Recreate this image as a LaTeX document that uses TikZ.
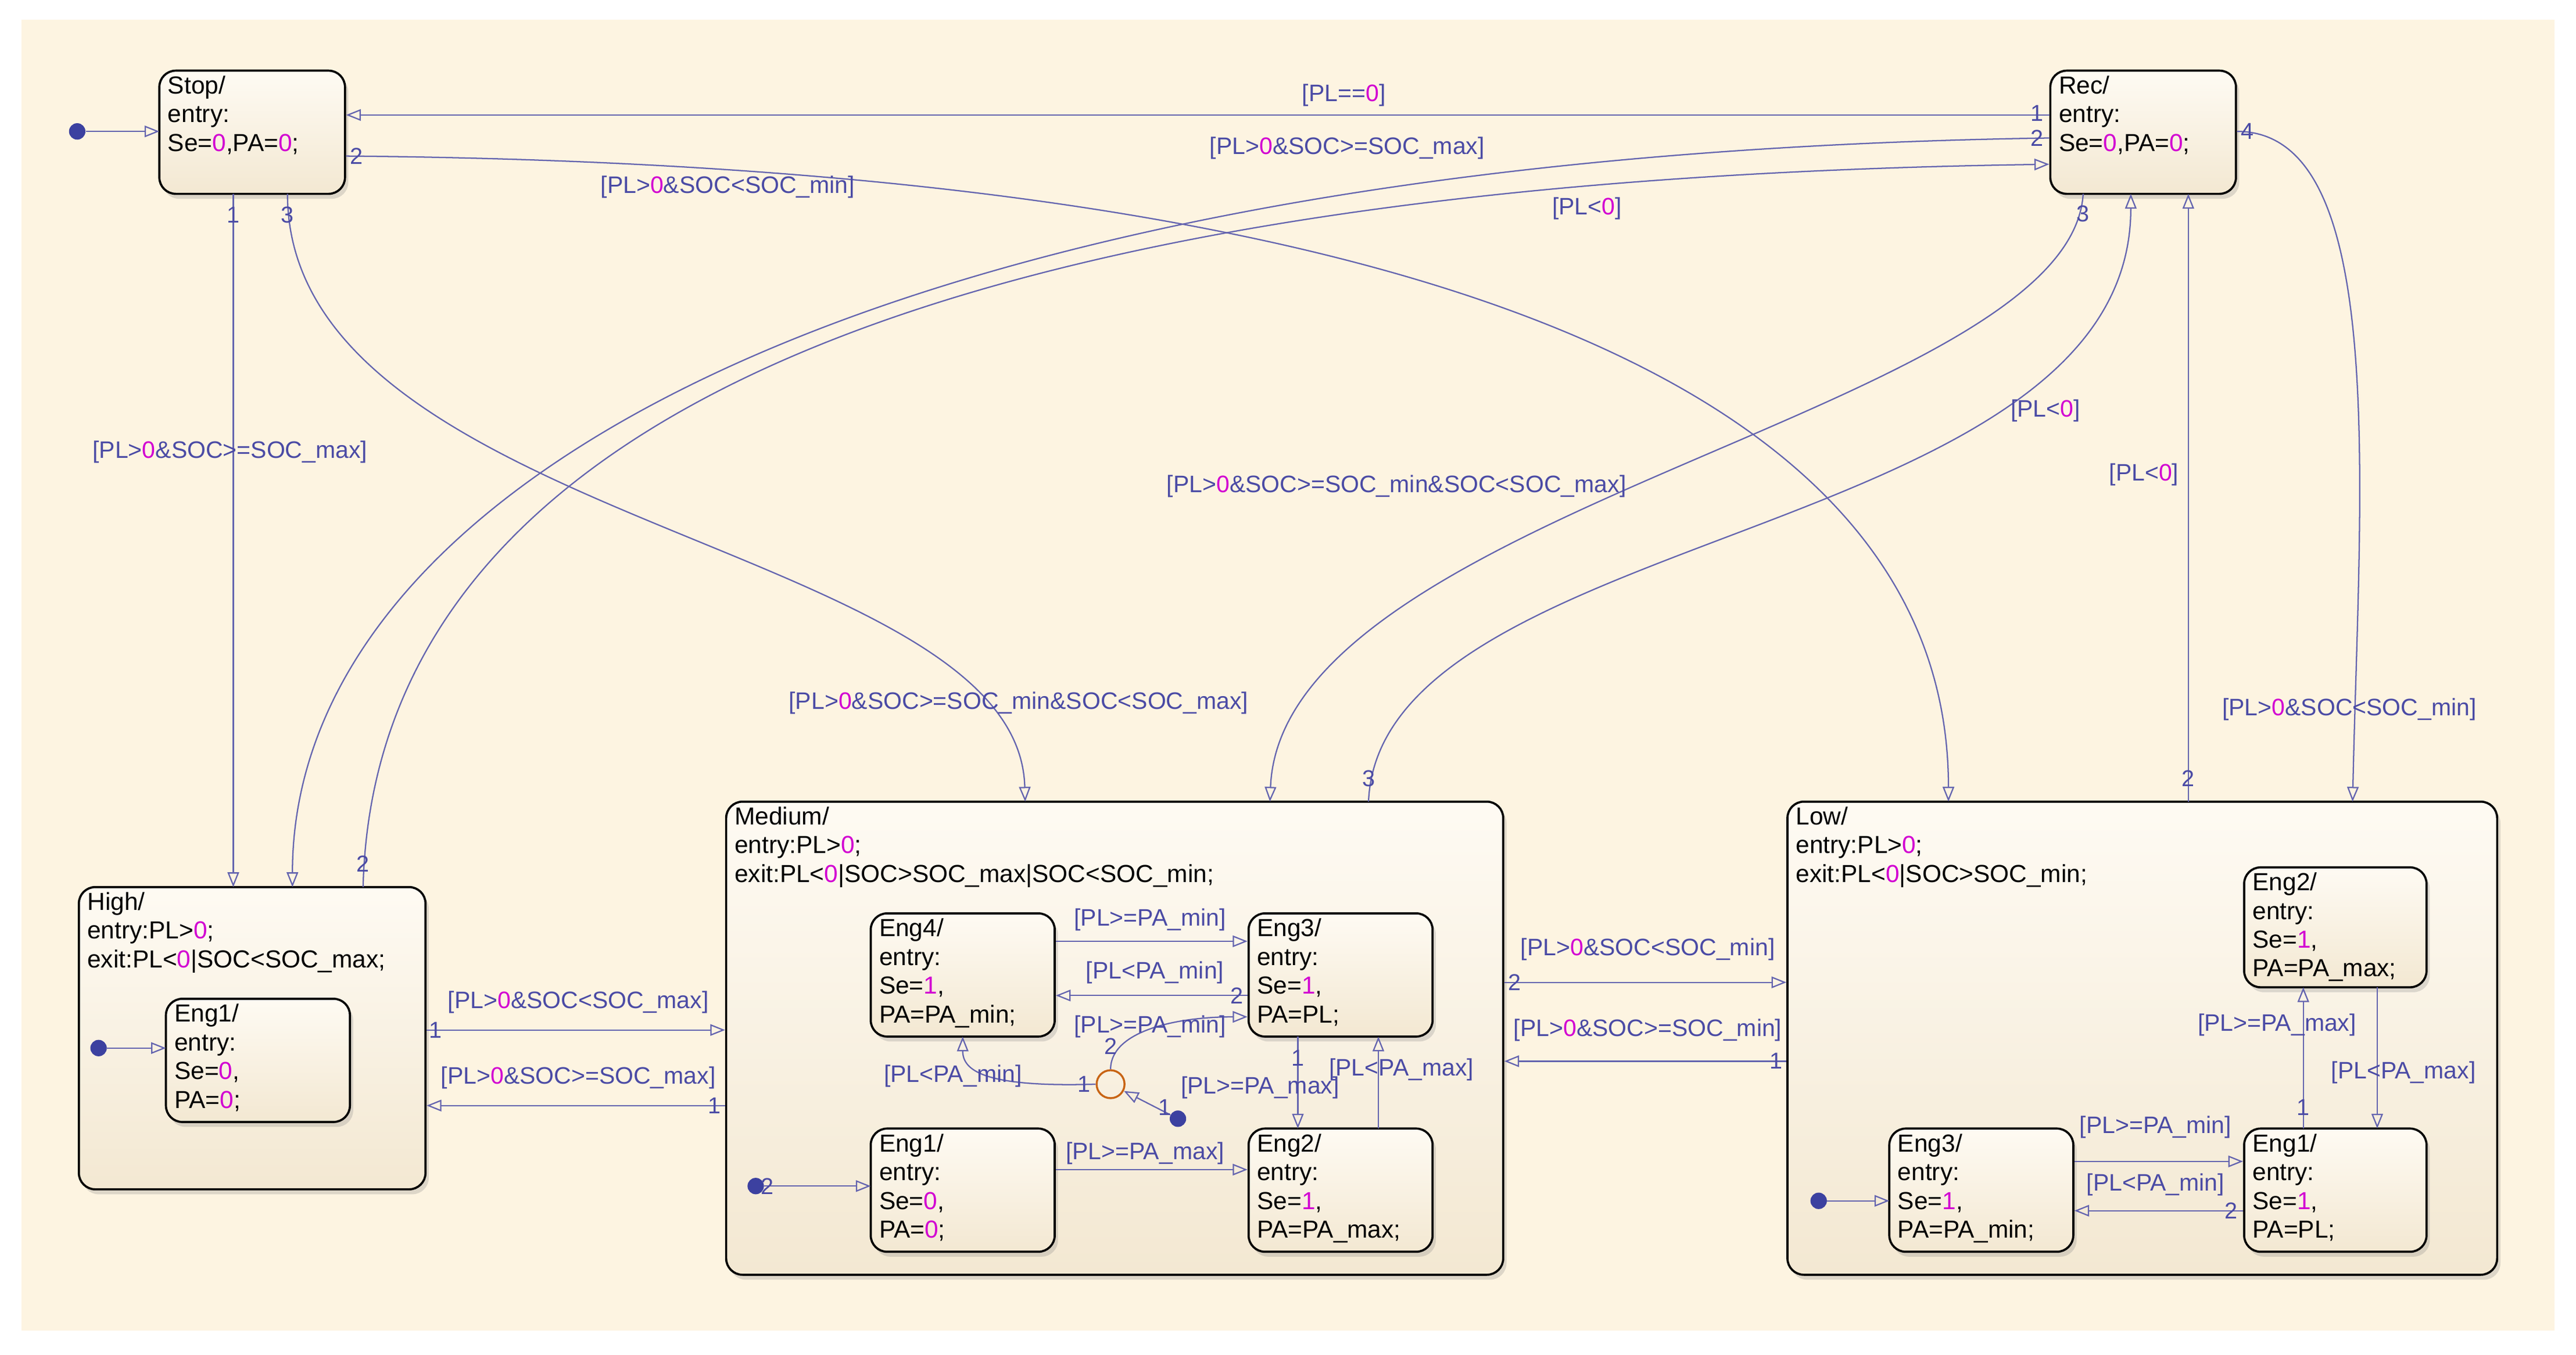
\documentclass[tikz,border=0pt]{standalone}
\usepackage{fontspec}
\setmainfont{Liberation Sans}
\usetikzlibrary{arrows.meta,shadows}
\definecolor{bg}{HTML}{FDF4E1}
\definecolor{ln}{RGB}{100,100,175}
\definecolor{lbl}{RGB}{75,75,165}
\definecolor{mag}{RGB}{210,0,210}
\definecolor{dot}{RGB}{60,65,160}
\newcommand\mg[1]{\textcolor{mag}{#1}}
\tikzset{
 state/.style={draw=black,line width=1.3pt,rounded corners=10pt,top color=white!60!bg,bottom color={rgb,255:red,243;green,232;blue,210},
   drop shadow={shadow xshift=2pt,shadow yshift=-3pt,opacity=0.25},inner sep=0},
 txt/.style={align=left,inner sep=0,font=\fontsize{15}{17.5}\selectfont,text=black},
 tr/.style={draw=ln,line width=0.8pt,-{Triangle[open,length=9pt,width=7pt]}},
 gl/.style={text=lbl,inner sep=0,font=\fontsize{14.5}{16}\selectfont},
 nm/.style={text=lbl,inner sep=0,font=\fontsize{14}{16}\selectfont},
 dt/.style={circle,fill=dot,inner sep=0,minimum size=10pt},
}
\newcommand\stt[6]{\node[state,minimum width={(#4-#2)*1pt},minimum height={(#5-#3)*1pt}] (#1) at ({(#2+#4)/2},{(#3+#5)/2}) {};
 \node[txt,anchor=north west] (#1t) at (#2+5,#3+3) {#6};}
\begin{document}
\begin{tikzpicture}[x=1pt,y=-1pt]
\useasboundingbox (0,0) rectangle (1568,824.5);
\fill[white] (0,0) rectangle (1568,824.5);
\fill[bg] (13,12) rectangle (1555,810);
% top level states
\stt{stop}{97}{43}{210}{118}{Stop/\\entry:\\Se=\mg{0},PA=\mg{0};}
\stt{rec}{1248}{43}{1361}{118}{Rec/\\entry:\\Se=\mg{0},PA=\mg{0};}
\stt{high}{48}{540}{259}{724}{High/\\entry:PL>\mg{0};\\exit:PL<\mg{0}|SOC<SOC\_max;}
\stt{med}{442}{488}{915}{776}{Medium/\\entry:PL>\mg{0};\\exit:PL<\mg{0}|SOC>SOC\_max|SOC<SOC\_min;}
\stt{low}{1088}{488}{1520}{776}{Low/\\entry:PL>\mg{0};\\exit:PL<\mg{0}|SOC>SOC\_min;}
% substates
\stt{he1}{101}{608}{213}{683}{Eng1/\\entry:\\Se=\mg{0},\\PA=\mg{0};}
\stt{me4}{530}{556}{642}{631}{Eng4/\\entry:\\Se=\mg{1},\\PA=PA\_min;}
\stt{me3}{760}{556}{872}{631}{Eng3/\\entry:\\Se=\mg{1},\\PA=PL;}
\stt{me1}{530}{687}{642}{762}{Eng1/\\entry:\\Se=\mg{0},\\PA=\mg{0};}
\stt{me2}{760}{687}{872}{762}{Eng2/\\entry:\\Se=\mg{1},\\PA=PA\_max;}
\stt{le2}{1366}{528}{1477}{601}{Eng2/\\entry:\\Se=\mg{1},\\PA=PA\_max;}
\stt{le1}{1366}{687}{1477}{762}{Eng1/\\entry:\\Se=\mg{1},\\PA=PL;}
\stt{le3}{1150}{687}{1262}{762}{Eng3/\\entry:\\Se=\mg{1},\\PA=PA\_min;}
% junction and default dots
\node[circle,draw={rgb,255:red,200;green,100;blue,20},line width=1.2pt,minimum size=17pt,inner sep=0] (j) at (676,660) {};
\node[dt] (d0) at (47,80) {};
\node[dt] (d1) at (60,638) {};
\node[dt] (d2) at (460,722) {};
\node[dt] (d3) at (717,681) {};
\node[dt] (d4) at (1107,731) {};
% default transitions
\draw[tr] (d0) -- (97,80);
\draw[tr] (d1) -- (101,638);
\draw[tr] (d2) -- (530,722);
\draw[tr] (d3) -- (j);
\draw[tr] (d4) -- (1150,731);
\node[nm] at (467,722) {2};
\node[nm] at (709,674) {1};
% top level transitions
\draw[tr] (rec.west|-0,70) -- (stop.east|-0,70);
\node[gl] at (818,58) {[PL==\mg{0}]}; \node[nm] at (1240,69) {1};
\draw[tr] (rec.west|-0,84) .. controls (520,95) and (178,300) .. (178,540);
\node[gl] at (820,90) {[PL>\mg{0}\&SOC>=SOC\_max]}; \node[nm] at (1240,84) {2};
\draw[tr] (221,540) .. controls (228,260) and (560,110) .. (rec.west|-0,100);
\node[gl] at (966,127) {[PL<\mg{0}]}; \node[nm] at (221,526) {2};
\draw[tr] (1268,118) .. controls (1260,250) and (780,310) .. (773,488);
\node[gl] at (850,296) {[PL>\mg{0}\&SOC>=SOC\_min\&SOC<SOC\_max]}; \node[nm] at (1268,130) {3};
\draw[tr] (833,488) .. controls (840,320) and (1297,330) .. (1297,118);
\node[gl] at (1245,250) {[PL<\mg{0}]}; \node[nm] at (833,474) {3};
\draw[tr] (1332,488) -- (1332,118);
\node[gl] at (1305,289) {[PL<\mg{0}]}; \node[nm] at (1332,474) {2};
\draw[tr] (rec.east|-0,80) .. controls (1455,80) and (1436,300) .. (1432,488);
\node[gl] at (1430,432) {[PL>\mg{0}\&SOC<SOC\_min]}; \node[nm] at (1368,80) {4};
\draw[tr] (stop.east|-0,95) .. controls (820,100) and (1186,220) .. (1186,488);
\node[gl] at (443,114) {[PL>\mg{0}\&SOC<SOC\_min]}; \node[nm] at (217,95) {2};
\draw[tr] (142,118) -- (142,540);
\node[gl] at (140,275) {[PL>\mg{0}\&SOC>=SOC\_max]}; \node[nm] at (142,131) {1};
\draw[tr] (175,118) .. controls (175,320) and (620,330) .. (624,488);
\node[gl] at (620,428) {[PL>\mg{0}\&SOC>=SOC\_min\&SOC<SOC\_max]}; \node[nm] at (175,131) {3};
\draw[tr] (high.east|-0,627) -- (med.west|-0,627);
\node[gl] at (352,610) {[PL>\mg{0}\&SOC<SOC\_max]}; \node[nm] at (265,627) {1};
\draw[tr] (med.west|-0,673) -- (high.east|-0,673);
\node[gl] at (352,656) {[PL>\mg{0}\&SOC>=SOC\_max]}; \node[nm] at (435,673) {1};
\draw[tr] (med.east|-0,598) -- (low.west|-0,598);
\node[gl] at (1003,578) {[PL>\mg{0}\&SOC<SOC\_min]}; \node[nm] at (922,598) {2};
\draw[tr] (low.west|-0,646) -- (med.east|-0,646);
\node[gl] at (1003,627) {[PL>\mg{0}\&SOC>=SOC\_min]}; \node[nm] at (1081,646) {1};
% medium inner
\draw[tr] (me4.east|-0,573) -- (me3.west|-0,573);
\node[gl] at (700,560) {[PL>=PA\_min]};
\draw[tr] (me3.west|-0,606) -- (me4.east|-0,606);
\node[gl] at (703,592) {[PL<PA\_min]}; \node[nm] at (753,606) {2};
\draw[tr] (j.north) .. controls (676,628) and (715,619) .. (me3.west|-0,619);
\node[gl] at (700,625) {[PL>=PA\_min]}; \node[nm] at (676,637) {2};
\draw[tr] (j.west) .. controls (600,662) and (586,652) .. (586,631);
\node[gl] at (580,655) {[PL<PA\_min]}; \node[nm] at (660,660) {1};
\draw[tr] (790,631) -- (790,687);
\node[gl] at (767,662) {[PL>=PA\_max]}; \node[nm] at (790,644) {1};
\draw[tr] (839,687) -- (839,631);
\node[gl] at (853,651) {[PL<PA\_max]};
\draw[tr] (me1.east|-0,712) -- (me2.west|-0,712);
\node[gl] at (697,702) {[PL>=PA\_max]};
% low inner
\draw[tr] (le3.east|-0,707) -- (le1.west|-0,707);
\node[gl] at (1312,686) {[PL>=PA\_min]};
\draw[tr] (le1.west|-0,737) -- (le3.east|-0,737);
\node[gl] at (1312,721) {[PL<PA\_min]}; \node[nm] at (1358,737) {2};
\draw[tr] (1402,687) -- (1402,601);
\node[gl] at (1386,624) {[PL>=PA\_max]}; \node[nm] at (1402,674) {1};
\draw[tr] (1447,601) -- (1447,687);
\node[gl] at (1463,653) {[PL<PA\_max]};
\end{tikzpicture}
\end{document}
